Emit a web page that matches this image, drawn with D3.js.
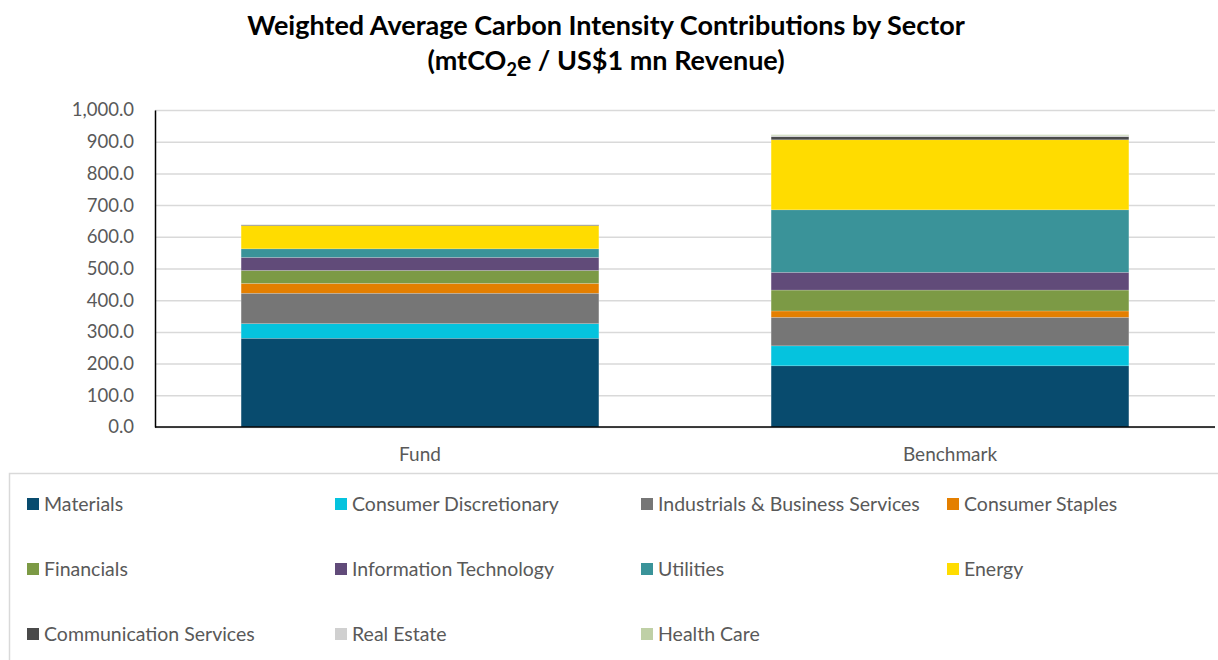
<!DOCTYPE html>
<html>
<head>
<meta charset="utf-8">
<script src="https://cdn.jsdelivr.net/npm/d3@7"></script>
<style>
  body { margin: 0; background: #fff; }
  svg { font-family: Lato, "Open Sans", sans-serif; }
</style>
</head>
<body>
<div id="chart"></div>
<script>
var width = 1218;
var height = 660;

// categories (bars) and sectors (stack order, bottom to top)
var groups = ["Fund", "Benchmark"];
var sectors = ["Materials", "Consumer Discretionary", "Industrials & Business Services",
  "Consumer Staples", "Financials", "Information Technology", "Utilities", "Energy",
  "Communication Services", "Real Estate", "Health Care"];
var sectorColors = ["#084B6E", "#05C3DE", "#767676", "#E47F00", "#7C9A45", "#614B79",
  "#3A9399", "#FFDC00", "#4A4A4A", "#D0D0D0", "#BFD0A6"];

// values per sector, [Fund, Benchmark]
var fundValues = [280, 46, 96, 31, 41, 41, 27, 73, 2, 1.5, 0.5];
var benchmarkValues = [193, 63, 90, 20, 66, 56, 197, 221, 10, 3, 3];

var yTicks = [0, 100, 200, 300, 400, 500, 600, 700, 800, 900, 1000];

var plot = { left: 155, right: 1215, top: 110, bottom: 427 };

var svg = d3.select("#chart").append("svg")
  .attr("width", width)
  .attr("height", height);

// title
var title = svg.append("text")
  .attr("text-anchor", "middle")
  .attr("font-weight", "bold")
  .attr("font-size", 27)
  .attr("fill", "#000");
title.append("tspan").attr("x", 606).attr("y", 35)
  .text("Weighted Average Carbon Intensity Contributions by Sector");
var t2 = title.append("tspan").attr("x", 606).attr("y", 70);
t2.append("tspan").text("(mtCO");
t2.append("tspan").attr("font-size", 18).attr("dy", 6).text("2");
t2.append("tspan").attr("dy", -6).text("e / US$1 mn Revenue)");

// scales
var x = d3.scaleBand()
  .domain(groups)
  .range([plot.left, plot.right])
  .paddingInner(0.325)
  .paddingOuter(0.1625);

var y = d3.scaleLinear()
  .domain([0, 1000])
  .range([plot.bottom, plot.top]);

// gridlines
svg.append("g")
  .attr("transform", "translate(" + plot.left + ",0)")
  .call(d3.axisLeft(y).tickValues(yTicks).tickSize(-(plot.right - plot.left)).tickFormat(""))
  .call(function (g) { g.select(".domain").remove(); })
  .selectAll("line")
    .attr("stroke", "#d9d9d9")
    .attr("stroke-width", 1.5);

// stacked data
var rows = groups.map(function (gname, gi) {
  var r = { group: gname };
  sectors.forEach(function (s, si) {
    r[s] = gi === 0 ? fundValues[si] : benchmarkValues[si];
  });
  return r;
});
var stacked = d3.stack().keys(sectors)(rows);
var color = d3.scaleOrdinal().domain(sectors).range(sectorColors);

svg.append("g")
  .selectAll("g")
  .data(stacked)
  .enter()
  .append("g")
  .attr("fill", function (d) { return color(d.key); })
  .selectAll("rect")
  .data(function (d) { return d; })
  .enter()
  .append("rect")
  .attr("x", function (d) { return x(d.data.group); })
  .attr("width", x.bandwidth())
  .attr("y", function (d) { return y(d[1]); })
  .attr("height", function (d) { return y(d[0]) - y(d[1]); })
  .attr("stroke", "#ffffff")
  .attr("stroke-opacity", 0.35)
  .attr("stroke-width", 0.5);

// y axis
var yAxis = svg.append("g")
  .attr("transform", "translate(" + plot.left + ",0)")
  .call(d3.axisLeft(y).tickValues(yTicks).tickSize(0).tickPadding(21).tickFormat(d3.format(",.1f")));
yAxis.select(".domain").attr("stroke", "#000").attr("stroke-width", 1.5);
yAxis.selectAll("text").attr("font-size", 18.5).attr("fill", "#595959")
  .attr("font-family", "Lato, 'Open Sans', sans-serif");

// x axis
var xAxis = svg.append("g")
  .attr("transform", "translate(0," + plot.bottom + ")")
  .call(d3.axisBottom(x).tickSize(0).tickPadding(21));
xAxis.select(".domain").attr("stroke", "#000").attr("stroke-width", 1.5)
  .attr("d", "M" + plot.left + ",0H" + plot.right);
xAxis.selectAll("text").attr("font-size", 19).attr("fill", "#595959")
  .attr("font-family", "Lato, 'Open Sans', sans-serif");

// legend
svg.append("rect")
  .attr("x", 9.5).attr("y", 473.5)
  .attr("width", 1230).attr("height", 200)
  .attr("fill", "none")
  .attr("stroke", "#d9d9d9")
  .attr("stroke-width", 1.5);

var legendCols = [23, 331, 637, 943];
var legendRows = [504, 569, 634];

var items = svg.append("g").selectAll("g")
  .data(sectors)
  .enter()
  .append("g")
  .attr("transform", function (d, i) {
    return "translate(" + legendCols[i % 4] + "," + legendRows[Math.floor(i / 4)] + ")";
  });
items.append("rect")
  .attr("x", 4).attr("y", -6)
  .attr("width", 12).attr("height", 12)
  .attr("fill", function (d) { return color(d); });
items.append("text")
  .attr("x", 21)
  .attr("dy", "0.35em")
  .attr("font-size", 19.5)
  .attr("fill", "#595959")
  .text(function (d) { return d; });
</script>
</body>
</html>
